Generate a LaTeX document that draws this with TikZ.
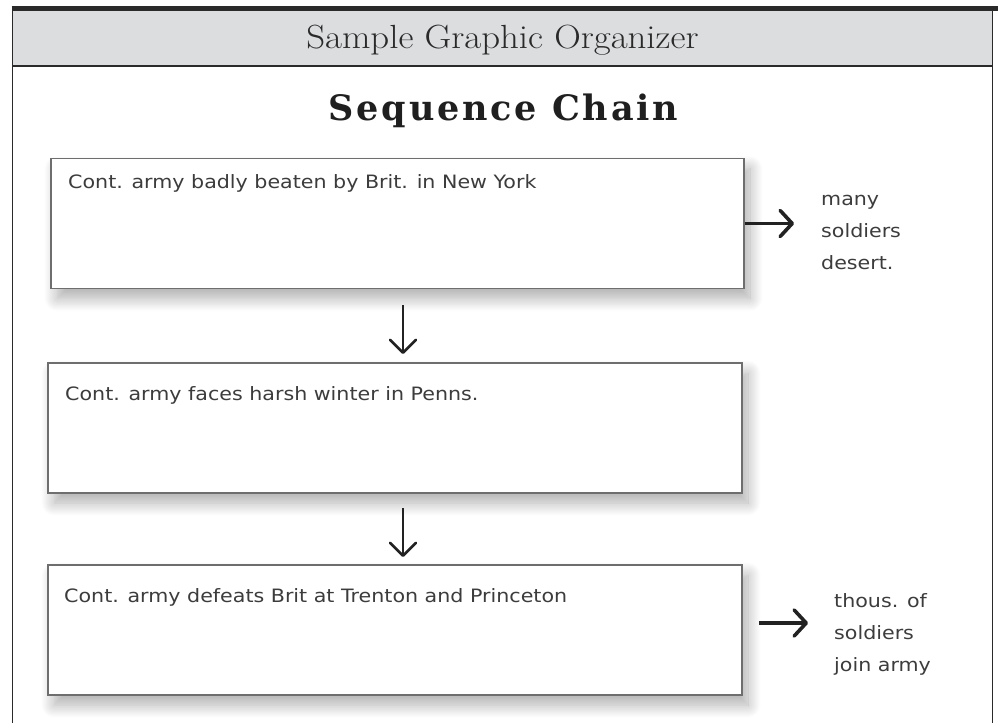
\documentclass[tikz,border=0pt]{standalone}
\usepackage{fontspec}
\usetikzlibrary{arrows.meta,shadows.blur}
\newfontfamily\handfont[FakeStretch=1.12]{DejaVu Sans}
\newfontfamily\slabfont[LetterSpace=8]{DejaVu Serif}
\newfontfamily\headfont[FakeStretch=1.1]{Latin Modern Roman}
\definecolor{frameink}{HTML}{2A2A2A}
\definecolor{headfill}{HTML}{DCDDDF}
\definecolor{boxline}{HTML}{6E6E6E}
\definecolor{handink}{HTML}{3C3C3C}
\definecolor{arrowink}{HTML}{222222}
\newcommand{\stack}[1]{\vtop{\baselineskip=32pt\lineskiplimit=-100pt #1}}
\begin{document}
\begin{tikzpicture}[x=1pt,y=-1pt,
  seqbox/.style={draw=boxline,line width=1.3pt,fill=white,minimum width=#1,minimum height=130pt,inner sep=0pt,
    blur shadow={shadow xshift=6pt,shadow yshift=-10pt,shadow blur radius=13pt,shadow blur steps=14,shadow opacity=32}},
  seqbox/.default=694pt,
  boxtext/.style={anchor=base west,inner sep=0pt,text=handink,font=\handfont\fontsize{18.4}{22}\selectfont},
  sidetext/.style={anchor=base west,inner sep=0pt,text=handink,font=\handfont\fontsize{18.4}{22}\selectfont},
  rarrow/.style={draw=arrowink,line width=3.6pt,-{Straight Barb[length=12pt,width=26pt,round]}},
  darrow/.style={draw=arrowink,line width=2.6pt,-{Straight Barb[length=13pt,width=26pt,round]}}]
\useasboundingbox (0,0) rectangle (998,723);
% frame and header
\fill[headfill] (12,8) rectangle (993,66);
\draw[frameink,line width=1.6pt] (12.5,8) -- (12.5,723);
\draw[frameink,line width=1.6pt] (992.5,8) -- (992.5,723);
\draw[frameink,line width=1.6pt] (12,66) -- (993,66);
\draw[frameink,line width=4.5pt] (11.7,8.5) -- (998,8.5);
\node[anchor=base,inner sep=0pt,text=frameink,font=\headfont\fontsize{33.5}{38}\selectfont] (hdr) at (502.5,48) {Sample Graphic Organizer};
\node[anchor=base,inner sep=0pt,text=black!88,font=\slabfont\bfseries\fontsize{35}{40}\selectfont] (ttl) at (503.5,120) {Sequence Chain};
% boxes
\node[seqbox=693pt] (b1) at (397.5,223.5) {};
\node[seqbox] (b2) at (395,428) {};
\node[seqbox] (b3) at (395,630) {};
\node[boxtext] (t1) at (68,188) {Cont. army badly beaten by Brit. in New York};
\node[boxtext] (t2) at (65,400) {Cont. army faces harsh winter in Penns.};
\node[boxtext] (t3) at (64,602) {Cont. army defeats Brit at Trenton and Princeton};
% side notes
\node[sidetext] (s1) at (821,205) {\stack{\hbox{many}\hbox{soldiers}\hbox{desert.}}};
\node[sidetext] (s3) at (834,607) {\stack{\hbox{thous. of}\hbox{soldiers}\hbox{join army}}};
% connectors
\coordinate (r1) at (794,223.5);
\coordinate (r3s) at (759,623);
\coordinate (r3e) at (808,623);
\coordinate (d1s) at (403,305);
\coordinate (d1e) at (403,354);
\coordinate (d2s) at (403,508);
\coordinate (d2e) at (403,557);
\draw[rarrow] (b1.east) -- (r1);
\draw[rarrow] (r3s) -- (r3e);
\draw[darrow] (d1s) -- (d1e);
\draw[darrow] (d2s) -- (d2e);
\end{tikzpicture}
\end{document}
